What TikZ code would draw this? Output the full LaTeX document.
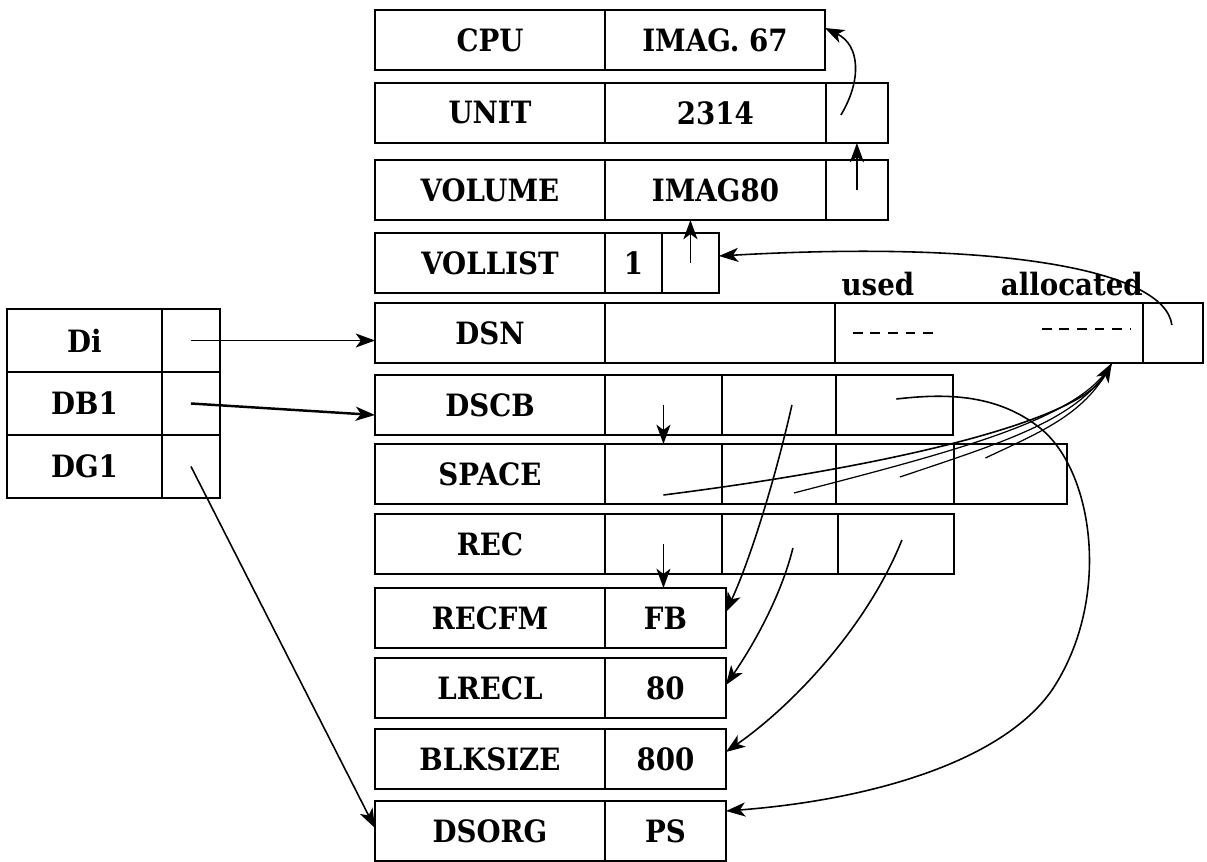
\documentclass[tikz,border=0pt]{standalone}
\usepackage{fontspec}
\setmainfont{DejaVu Serif Condensed}
\usetikzlibrary{positioning,arrows.meta,calc}

\begin{document}
\begin{tikzpicture}[
    x=0.02cm, y=-0.02cm,
    font=\fontsize{17.5}{20}\selectfont\bfseries,
    cell/.style={draw, line width=1.1pt, inner sep=0pt, outer sep=0pt, minimum height=1.2cm},
    namecell/.style={cell, minimum width=4.6cm, anchor=north west},
    lcell/.style={draw, line width=1pt, inner sep=0pt, outer sep=0pt, minimum height=1.26cm},
    ptr/.style={-{Stealth[length=11pt,width=8pt,inset=3pt]}, line width=0.9pt},
    thinptr/.style={line width=0.7pt},
    dashline/.style={line width=1.1pt, dash pattern=on 5.5pt off 4.5pt},
    lbl/.style={inner sep=0pt}
]
\useasboundingbox (0,0) rectangle (1207,862);

% main control block column
\node (cpu) [namecell] at (375,10) {CPU};
\node (cpuv) [cell, minimum width=4.4cm, right=0pt of cpu] {IMAG. 67};

\node (unit) [namecell] at (375,83) {UNIT};
\node (unitv) [cell, minimum width=4.42cm, right=0pt of unit] {2314};
\node (unitp) [cell, minimum width=1.24cm, right=0pt of unitv] {};

\node (vol) [namecell] at (375,160) {VOLUME};
\node (volv) [cell, minimum width=4.42cm, right=0pt of vol] {IMAG80};
\node (volp) [cell, minimum width=1.24cm, right=0pt of volv] {};

\node (vll) [namecell] at (375,233) {VOLLIST};
\node (vlln) [cell, minimum width=1.14cm, right=0pt of vll] {1};
\node (vllp) [cell, minimum width=1.14cm, right=0pt of vlln] {};

\node (dsn) [namecell] at (375,303) {DSN};
\node (dsnv) [cell, minimum width=4.6cm, right=0pt of dsn] {};
\node (dsnsp) [cell, minimum width=6.16cm, right=0pt of dsnv] {};
\node (dsnp) [cell, minimum width=1.2cm, right=0pt of dsnsp] {};

\node (dscb) [namecell] at (375,375) {DSCB};
\node (dscba) [cell, minimum width=2.34cm, right=0pt of dscb] {};
\node (dscbb) [cell, minimum width=2.28cm, right=0pt of dscba] {};
\node (dscbc) [cell, minimum width=2.34cm, right=0pt of dscbb] {};

\node (space) [namecell] at (375,444) {SPACE};
\node (spacea) [cell, minimum width=2.34cm, right=0pt of space] {};
\node (spaceb) [cell, minimum width=2.28cm, right=0pt of spacea] {};
\node (spacec) [cell, minimum width=2.36cm, right=0pt of spaceb] {};
\node (spaced) [cell, minimum width=2.26cm, right=0pt of spacec] {};

\node (rec) [namecell] at (375,514) {REC};
\node (reca) [cell, minimum width=2.34cm, right=0pt of rec] {};
\node (recb) [cell, minimum width=2.32cm, right=0pt of reca] {};
\node (recc) [cell, minimum width=2.32cm, right=0pt of recb] {};

\node (recfm) [namecell] at (375,588) {RECFM};
\node (recfmv) [cell, minimum width=2.42cm, right=0pt of recfm] {FB};

\node (lrecl) [namecell] at (375,658) {LRECL};
\node (lreclv) [cell, minimum width=2.42cm, right=0pt of lrecl] {80};

\node (blk) [namecell] at (375,729) {BLKSIZE};
\node (blkv) [cell, minimum width=2.42cm, right=0pt of blk] {800};

\node (dsorg) [namecell] at (375,801) {DSORG};
\node (dsorgv) [cell, minimum width=2.42cm, right=0pt of dsorg] {PS};

% used / allocated
\node (used) [lbl, anchor=base] at ($(dsnsp.north west)+(43,-8)$) {used};
\node (alloc) [lbl, anchor=base] at ($(dsnsp.north east)+(-71,-8)$) {allocated};
\draw [dashline] ($(dsnsp.west)+(18,0)$) -- +(85,0);
\draw [dashline] ($(dsnsp.east)+(-101,-4)$) -- +(88,0);

% DD table
\node (di) [lcell, minimum width=3.1cm, anchor=north west] at (7,309) {Di};
\node (dip) [lcell, minimum width=1.16cm, right=0pt of di] {};
\node (db) [lcell, minimum width=3.1cm, below=0pt of di] {DB1};
\node (dbp) [lcell, minimum width=1.16cm, right=0pt of db] {};
\node (dg) [lcell, minimum width=3.1cm, below=0pt of db] {DG1};
\node (dgp) [lcell, minimum width=1.16cm, right=0pt of dg] {};

% pointers
\draw [ptr] ($(unitp.center)+(-16,2)$) .. controls (862,80) and (860,45) .. ($(cpuv.east)+(0,-12)$);
\draw [ptr] (volp.center) -- (unitp.south);
\draw [ptr] (vllp.center) -- (vllp.center |- volv.south);
\draw [ptr] ($(dsnp.center)+(-1,-8)$) .. controls (1165,270) and (1000,240) .. ($(vllp.east)+(0,-7)$);

\draw [ptr] (dip.center) -- (dip.center -| dsn.west);
\draw [ptr, line width=1.4pt] (dbp.center) -- ($(dscb.west)+(0,10)$);
\draw [ptr] (dgp.center) -- ($(dsorg.west)+(0,-3)$);

\draw [ptr] (dscba.center) -- (dscba.center |- spacea.north);
\draw [ptr] ($(dscbb.center)+(13,0)$) .. controls (775,480) and (750,560) .. ($(recfmv.east)+(0,-6)$);
\draw [ptr] ($(dscbc.center)+(2,-6)$) .. controls (940,394) and (995,392) .. (1040,428)
    .. controls (1094,471) and (1112,600) .. (1052,690)
    .. controls (1002,762) and (870,800) .. ($(dsorgv.east)+(0,-20)$);

\coordinate (allocpt) at ($(dsnsp.south east)+(-31,0)$);
\draw [ptr] ($(spacea.center)+(0,21)$) .. controls (900,465) and (1080,420) .. (allocpt);
\draw [thinptr] ($(spaceb.center)+(15,19)$) .. controls (960,450) and (1082,418) .. (allocpt);
\draw [thinptr] ($(spacec.center)+(5,3)$) .. controls (1010,440) and (1082,418) .. (allocpt);
\draw [thinptr] ($(spaced.center)+(-25,-16)$) .. controls (1045,430) and (1087,413) .. (allocpt);

\draw [ptr] (reca.center) -- (reca.center |- recfmv.north);
\draw [ptr] ($(recb.center)+(13,4)$) .. controls (780,600) and (750,650) .. ($(lreclv.east)+(0,-3)$);
\draw [ptr] ($(recc.center)+(6,-4)$) .. controls (870,620) and (800,700) .. ($(blkv.east)+(0,-7)$);

\end{tikzpicture}
\end{document}
